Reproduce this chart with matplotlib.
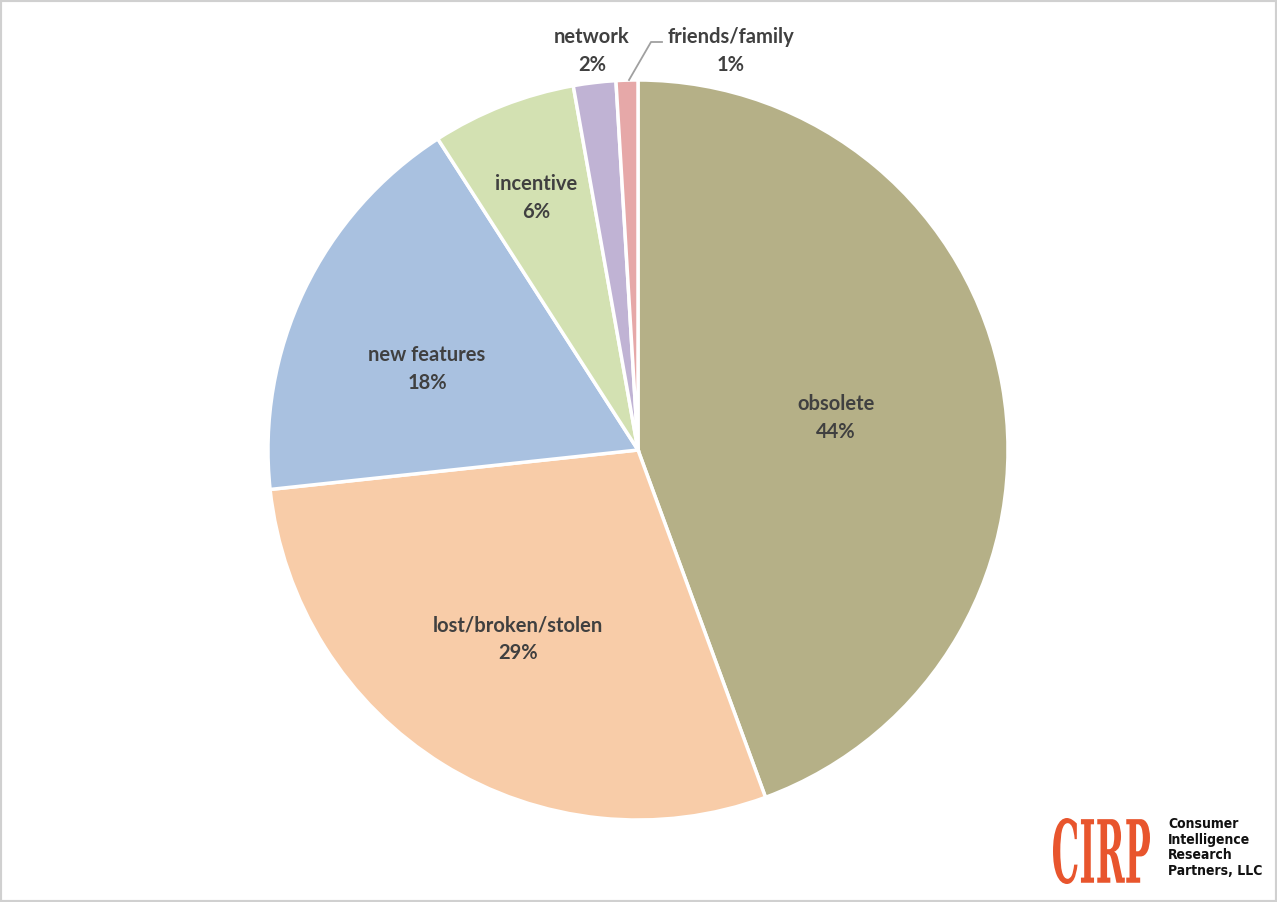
import matplotlib.pyplot as plt
from matplotlib.textpath import TextPath
from matplotlib.font_manager import FontProperties
from matplotlib.patches import PathPatch, Rectangle
from matplotlib.transforms import Affine2D

# reasons for replacing phone (share)
labels = ['obsolete', 'lost/broken/stolen', 'new features', 'incentive', 'network', 'friends/family']
shares = [44.4, 28.9, 17.6, 6.3, 1.85, 0.95]
pct_text = ['44%', '29%', '18%', '6%', '2%', '1%']
colors = ['#b5b087', '#f8cca8', '#a9c1e0', '#d3e1b2', '#c0b3d4', '#e6a8a8']

W, H = 1277, 902
fig = plt.figure(figsize=(W / 100, H / 100), dpi=100)
ax = fig.add_axes([0, 0, 1, 1])

cx, cy, r = 638, H - 450, 370
wedges, _ = ax.pie(shares, colors=colors, startangle=90, counterclock=False,
                   center=(cx, cy), radius=r, frame=True,
                   wedgeprops=dict(edgecolor='white', linewidth=2.5))
ax.set_xlim(0, W)
ax.set_ylim(0, H)
ax.axis('off')

# label positions (pixel coords from top)
label_pos = [(836, 418), (518, 639), (427, 369), (536, 198), (592, 51), (731, 51)]
for lab, p, (x, y) in zip(labels, pct_text, label_pos):
    ax.text(x, H - y, lab + '\n' + p, ha='center', va='center', fontsize=14.5,
            fontweight='bold', color='#404040', family='Lato', linespacing=1.5)

# leader line for friends/family
ax.plot([629, 651, 662], [H - 80, H - 42, H - 42], color='#a0a0a0', lw=1.3)

# logo
fp = FontProperties(family='DejaVu Serif', weight='bold')
tp = TextPath((0, 0), 'CIRP', prop=fp, size=10)
bb = tp.get_extents()
tr = Affine2D().translate(-bb.x0, -bb.y0).scale(97 / bb.width, 66 / bb.height).translate(1053, H - 884)
ax.add_patch(PathPatch(tr.transform_path(tp), facecolor='#e8552d', edgecolor='none'))
ax.text(1168, H - 817, 'Consumer\nIntelligence\nResearch\nPartners, LLC', ha='left', va='top',
        fontsize=10, fontweight='bold', family='DejaVu Sans', fontstretch='condensed',
        color='#111111', linespacing=1.15)

# outer border
fig.patches.append(Rectangle((0, 0), 1, 1, transform=fig.transFigure, fill=False,
                             edgecolor='#d0d0d0', linewidth=3))

fig.savefig('out.png', dpi=100)
